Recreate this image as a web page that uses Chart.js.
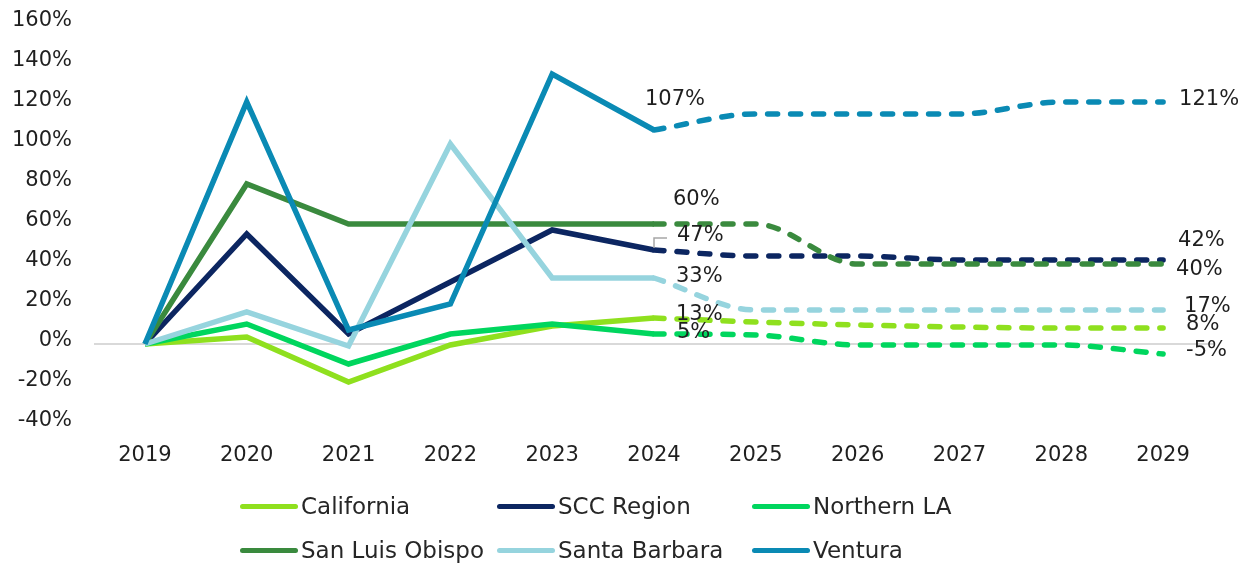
<!DOCTYPE html>
<html>
<head>
<meta charset="utf-8">
<script src="https://cdn.jsdelivr.net/npm/chart.js@4.4.1/dist/chart.umd.min.js"></script>
<style>
  html, body { margin: 0; padding: 0; background: #ffffff; }
  #wrap { position: relative; width: 1243px; height: 563px; overflow: hidden; }
  #chart { position: absolute; left: 0; top: 0; }
  .lg-item { position: absolute; height: 30px; display: flex; align-items: center;
             font-family: "DejaVu Sans", sans-serif; font-size: 23px; color: #262626; white-space: nowrap; }
  .lg-line { width: 58px; height: 5px; border-radius: 3px; margin-right: 3px; }
</style>
</head>
<body>
<div id="wrap">
  <canvas id="chart" width="1243" height="563"></canvas>
  <div id="legend"></div>
</div>
<script>
// ---- data ----
const years = ['2019', '2020', '2021', '2022', '2023', '2024', '2025', '2026', '2027', '2028', '2029'];
const forecastStartYear = '2024';
const yTickMin = -40;
const yTickMax = 160;
const yTickStep = 20;

const seriesNames = ['California', 'SCC Region', 'Northern LA', 'San Luis Obispo', 'Santa Barbara', 'Ventura'];
const california    = [0, 3.5, -19, -0.5, 9, 13, 11, 9.5, 8.5, 8, 8];
const sccRegion     = [0, 55, 5, 31, 57, 47, 44, 44, 42, 42, 42];
const northernLA    = [0, 10, -10, 5, 10, 5, 4.5, -0.5, -0.5, -0.5, -5];
const sanLuisObispo = [0, 80, 60, 60, 60, 60, 60, 40, 40, 40, 40];
const santaBarbara  = [0, 16, -1, 100, 33, 33, 17, 17, 17, 17, 17];
const ventura       = [0, 121, 7, 20, 135, 107, 115, 115, 115, 121, 121];

// ---- styles ----
const seriesValues = [california, sccRegion, northernLA, sanLuisObispo, santaBarbara, ventura];
const seriesColors = ['#8FE01E', '#0C2661', '#00D65E', '#3A8A3E', '#96D4DE', '#0A8AB4'];
const FONT = '"DejaVu Sans", sans-serif';
const TEXT_COLOR = '#1f1f1f';

// data label placement (style offsets in px relative to the point)
const labelSpecs = [
  { s: 5, year: '2024', dx: -9,  dy: -30 },
  { s: 3, year: '2024', dx: 19,  dy: -24 },
  { s: 1, year: '2024', dx: 23,  dy: -14, leader: true },
  { s: 4, year: '2024', dx: 22,  dy: -1 },
  { s: 0, year: '2024', dx: 22,  dy: -3 },
  { s: 2, year: '2024', dx: 23,  dy: -1 },
  { s: 5, year: '2029', dx: 16,  dy: -2 },
  { s: 1, year: '2029', dx: 15,  dy: -19 },
  { s: 3, year: '2029', dx: 13,  dy: 6 },
  { s: 4, year: '2029', dx: 21,  dy: -3 },
  { s: 0, year: '2029', dx: 23,  dy: -3 },
  { s: 2, year: '2029', dx: 23,  dy: -3 }
];

const splitIdx = years.indexOf(forecastStartYear);
const datasets = [];
seriesNames.forEach((name, i) => {
  const vals = seriesValues[i];
  const hist = vals.map((v, k) => (k <= splitIdx ? v : null));
  const fc = vals.map((v, k) => (k >= splitIdx ? v : null));
  const order = seriesNames.length - 1 - i;
  datasets.push({
    label: name, data: hist, borderColor: seriesColors[i], backgroundColor: seriesColors[i],
    borderWidth: 5.5, pointRadius: 0, tension: 0, borderJoinStyle: 'miter', borderCapStyle: 'butt',
    order: order, fill: false
  });
  datasets.push({
    label: name + ' (forecast)', data: fc, borderColor: seriesColors[i], backgroundColor: seriesColors[i],
    borderWidth: 5.5, pointRadius: 0, cubicInterpolationMode: 'monotone', borderDash: [10, 13],
    borderCapStyle: 'round', borderJoinStyle: 'round', order: order, fill: false
  });
});

const dataLabelPlugin = {
  id: 'dataLabels',
  afterDatasetsDraw(chart) {
    const ctx = chart.ctx;
    const xs = chart.scales.x, ys = chart.scales.y;
    ctx.save();
    ctx.font = '21px ' + FONT;
    ctx.fillStyle = TEXT_COLOR;
    ctx.textAlign = 'left';
    ctx.textBaseline = 'middle';
    labelSpecs.forEach(sp => {
      const idx = years.indexOf(sp.year);
      const v = seriesValues[sp.s][idx];
      const px = xs.getPixelForValue(idx);
      const py = ys.getPixelForValue(v);
      if (sp.leader) {
        ctx.strokeStyle = '#a6a6a6';
        ctx.lineWidth = 1.5;
        ctx.beginPath();
        ctx.moveTo(px, py - 2);
        ctx.lineTo(px, py - 12);
        ctx.lineTo(px + 13, py - 12);
        ctx.stroke();
      }
      ctx.fillText(Math.round(v) + '%', px + sp.dx, py + sp.dy);
    });
    ctx.restore();
  }
};

new Chart(document.getElementById('chart'), {
  type: 'line',
  data: { labels: years, datasets: datasets },
  plugins: [dataLabelPlugin],
  options: {
    responsive: false,
    animation: false,
    layout: { padding: { top: 24, right: 29, bottom: 79, left: 0 } },
    plugins: { legend: { display: false }, tooltip: { enabled: false } },
    scales: {
      x: {
        offset: true,
        grid: { display: false, drawTicks: false, offset: true },
        border: { display: false },
        ticks: { font: { family: FONT, size: 21 }, color: TEXT_COLOR, padding: 19, maxRotation: 0 },
        afterFit(scale) { scale.height = 60; scale.paddingLeft = 0; scale.paddingRight = 0; }
      },
      y: {
        min: yTickMin, max: yTickMax,
        grid: {
          drawTicks: false,
          color: c => (c.tick && c.tick.value === 0 ? '#d9d9d9' : 'rgba(0,0,0,0)'),
          lineWidth: 2
        },
        border: { display: false },
        ticks: {
          stepSize: yTickStep, padding: 22, labelOffset: -3,
          font: { family: FONT, size: 21 }, color: TEXT_COLOR,
          callback: v => v + '%'
        },
        afterFit(scale) { scale.width = 94; scale.paddingTop = 0; scale.paddingBottom = 0; }
      }
    }
  }
});

// ---- legend (3 columns x 2 rows) ----
const legendCols = [240, 497, 752];
const legendRows = [506, 550];
const legendEl = document.getElementById('legend');
seriesNames.forEach((name, i) => {
  const item = document.createElement('div');
  item.className = 'lg-item';
  item.style.left = legendCols[i % 3] + 'px';
  item.style.top = (legendRows[Math.floor(i / 3)] - 15) + 'px';
  const line = document.createElement('span');
  line.className = 'lg-line';
  line.style.background = seriesColors[i];
  const txt = document.createElement('span');
  txt.textContent = name;
  item.appendChild(line);
  item.appendChild(txt);
  legendEl.appendChild(item);
});
</script>
</body>
</html>
